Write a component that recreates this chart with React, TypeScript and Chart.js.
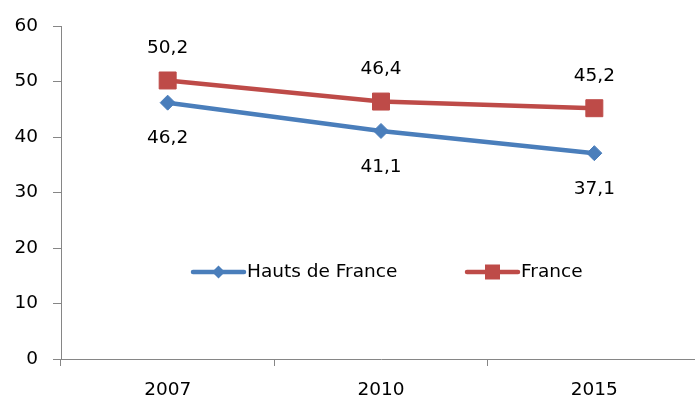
import { useEffect, useRef } from 'react';
import { Chart, registerables } from 'chart.js';

Chart.register(...registerables);

const years = ['2007', '2010', '2015'];
const hautsDeFrance = [46.2, 41.1, 37.1];
const france = [50.2, 46.4, 45.2];
const yTicks = [0, 10, 20, 30, 40, 50, 60];

const FONT = "'DejaVu Sans', sans-serif";
const SIZE = 18.5;
const BLUE = '#4A7EBB';
const RED = '#BE4B48';
const AXIS = '#868686';

const fmt = (v: number) => v.toFixed(1).replace('.', ',');

// value labels: France above its points, Hauts de France below
const valueLabels = {
  id: 'valueLabels',
  afterDatasetsDraw(chart: any) {
    const ctx = chart.ctx;
    ctx.save();
    ctx.font = `${SIZE}px ${FONT}`;
    ctx.fillStyle = '#000';
    ctx.textAlign = 'center';
    ctx.textBaseline = 'middle';
    chart.data.datasets.forEach((ds: any, i: number) => {
      const meta = chart.getDatasetMeta(i);
      meta.data.forEach((pt: any, j: number) => {
        ctx.fillText(fmt(ds.data[j]), pt.x, pt.y + ds.labelOffset);
      });
    });
    ctx.restore();
  },
};

// legend drawn inside the plot area, like the spreadsheet original
const insideLegend = {
  id: 'insideLegend',
  afterDraw(chart: any) {
    const ctx = chart.ctx;
    const { left, bottom } = chart.chartArea;
    const y = bottom - 87;
    const starts = [left + 132, left + 406];
    ctx.save();
    ctx.font = `${SIZE}px ${FONT}`;
    ctx.textBaseline = 'middle';
    ctx.textAlign = 'left';
    chart.data.datasets.forEach((ds: any, i: number) => {
      const x0 = starts[i];
      const x1 = x0 + 51;
      const cx = (x0 + x1) / 2;
      ctx.strokeStyle = ds.borderColor;
      ctx.lineWidth = 4.5;
      ctx.lineCap = 'round';
      ctx.beginPath();
      ctx.moveTo(x0, y);
      ctx.lineTo(x1, y);
      ctx.stroke();
      ctx.fillStyle = ds.borderColor;
      ctx.beginPath();
      if (ds.pointStyle === 'rectRot') {
        const r = 6.5;
        ctx.moveTo(cx - r, y);
        ctx.lineTo(cx, y - r);
        ctx.lineTo(cx + r, y);
        ctx.lineTo(cx, y + r);
        ctx.closePath();
      } else {
        const h = 7.5;
        ctx.rect(cx - h, y - h, h * 2, h * 2);
      }
      ctx.fill();
      ctx.fillStyle = '#000';
      ctx.fillText(ds.label, x1 + 3, y);
    });
    ctx.restore();
  },
};

export default function App() {
  const canvasRef = useRef<HTMLCanvasElement>(null);

  useEffect(() => {
    if (!canvasRef.current) return;
    const chart = new Chart(canvasRef.current, {
      type: 'line',
      data: {
        labels: years,
        datasets: [
          {
            label: 'Hauts de France',
            data: hautsDeFrance,
            borderColor: BLUE,
            backgroundColor: BLUE,
            borderWidth: 4.5,
            borderCapStyle: 'round',
            pointStyle: 'rectRot',
            pointRadius: 7.5,
            pointBorderWidth: 1,
            pointBackgroundColor: BLUE,
            pointBorderColor: BLUE,
            tension: 0,
            labelOffset: 36,
          } as any,
          {
            label: 'France',
            data: france,
            borderColor: RED,
            backgroundColor: RED,
            borderWidth: 4.5,
            borderCapStyle: 'round',
            pointStyle: 'rect',
            pointRadius: 12,
            pointBorderWidth: 1,
            pointBackgroundColor: RED,
            pointBorderColor: RED,
            tension: 0,
            labelOffset: -32,
          } as any,
        ],
      },
      options: {
        animation: false,
        responsive: true,
        maintainAspectRatio: false,
        layout: { padding: { top: 24.5, right: 0, bottom: 0, left: 0 } },
        plugins: { legend: { display: false }, tooltip: { enabled: false } },
        scales: {
          x: {
            offset: true,
            grid: { offset: true, drawOnChartArea: false, drawTicks: true, tickLength: 7, color: AXIS },
            border: { display: true, color: AXIS, width: 1 },
            ticks: { color: '#000', font: { family: FONT, size: SIZE }, padding: 13, maxRotation: 0 },
            afterFit: (s: any) => { s.height = 42; },
          },
          y: {
            min: 0,
            max: 60,
            afterBuildTicks: (s: any) => { s.ticks = yTicks.map((v) => ({ value: v })); },
            grid: { drawOnChartArea: false, drawTicks: true, tickLength: 8, color: AXIS },
            border: { display: true, color: AXIS, width: 1 },
            ticks: { color: '#000', font: { family: FONT, size: SIZE }, padding: 15 },
            afterFit: (s: any) => { s.width = 61; },
          },
        },
      },
      plugins: [valueLabels, insideLegend],
    });
    return () => { chart.destroy(); };
  }, []);

  return (
    <div style={{ position: 'fixed', left: 0, top: 0, width: 695, height: 401, overflow: 'hidden', background: '#fff' }}>
      <div style={{ position: 'relative', width: 714, height: 401 }}>
        <canvas ref={canvasRef} />
      </div>
    </div>
  );
}
